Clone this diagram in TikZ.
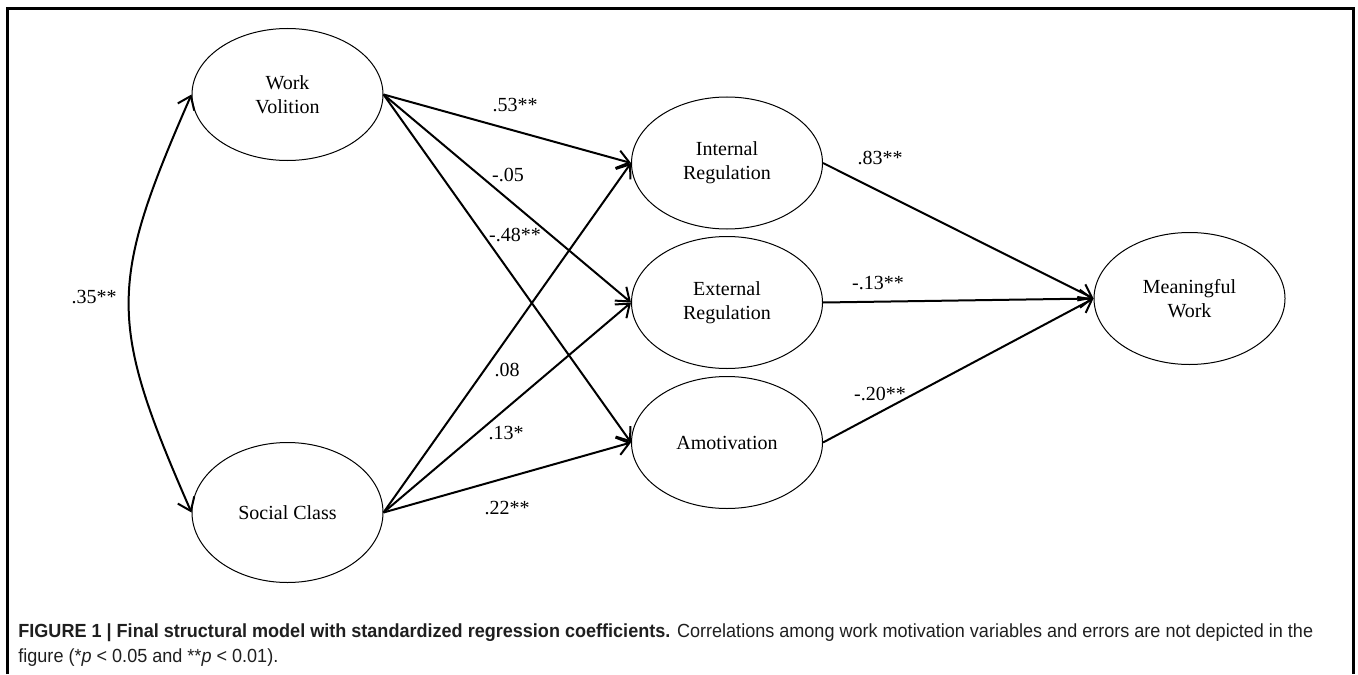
\documentclass[tikz,border=0pt]{standalone}
\usepackage{fontspec}
\setmainfont{Liberation Serif}
\newfontfamily\capfont[FakeStretch=0.95]{Liberation Sans}
\usetikzlibrary{shapes.geometric,arrows.meta}
\begin{document}
\begin{tikzpicture}[x=0.5pt,y=-0.5pt,
  latent/.style={ellipse,draw,line width=0.5pt,minimum width=95.5pt,minimum height=66pt,inner sep=0pt,align=center,font=\fontsize{10}{12}\selectfont},
  pathline/.style={line width=1pt,-{Straight Barb[length=6pt,width=9pt]}},
  dblline/.style={line width=1pt,{Straight Barb[length=6pt,width=9pt]}-{Straight Barb[length=6pt,width=9pt]}},
  coef/.style={inner sep=0pt,font=\fontsize{10}{12}\selectfont},
  frame/.style={line width=1.5pt},
  captxt/.style={anchor=base west,inner sep=0pt,text=black!88,font=\capfont\fontsize{9.5}{12.5}\selectfont}]
\useasboundingbox (0,0) rectangle (1358,674);
\draw[frame] (7,674) -- (7,9) -- (1353,9) -- (1353,674);
% latent variables
\node[latent] (wv) at (287.5,94.5) {Work\\Volition};
\node[latent,minimum height=70pt] (sc) at (287.5,512.5) {Social Class};
\node[latent] (ir) at (727,163) {Internal\\Regulation};
\node[latent] (er) at (727,302.5) {External\\Regulation};
\node[latent] (am) at (727,442.5) {Amotivation};
\node[latent] (mw) at (1189.5,298.5) {Meaningful\\Work};
% paths
\draw[pathline] (wv.east) -- (ir.west);
\draw[pathline] (wv.east) -- (er.west);
\draw[pathline] (wv.east) -- (am.west);
\draw[pathline] (sc.east) -- (ir.west);
\draw[pathline] (sc.east) -- (er.west);
\draw[pathline] (sc.east) -- (am.west);
\draw[pathline] (ir.east) -- (mw.west);
\draw[pathline] (er.east) -- (mw.west);
\draw[pathline] (am.east) -- (mw.west);
\draw[dblline] (wv.west) .. controls (108,285) and (108,322) .. (sc.west);
% coefficients
\node[coef] (c35) at (94,297) {.35**};
\node[coef] (c53) at (515,105) {.53**};
\node[coef] (c05) at (508,175) {-.05};
\node[coef] (c48) at (515,235) {-.48**};
\node[coef] (c08) at (507,370) {.08};
\node[coef] (c13) at (506,433) {.13*};
\node[coef] (c22) at (507,508) {.22**};
\node[coef] (c83) at (880,158) {.83**};
\node[coef] (cm13) at (878,283) {-.13**};
\node[coef] (cm20) at (880,394) {-.20**};
% caption
\node[captxt] (cap1) at (18,637) {\textbf{FIGURE 1 | Final structural model with standardized regression coefficients.} Correlations among work motivation variables and errors are not depicted in the};
\node[captxt] (cap2) at (18,662) {figure (*\textit{p} < 0.05 and **\textit{p} < 0.01).};
\end{tikzpicture}
\end{document}
